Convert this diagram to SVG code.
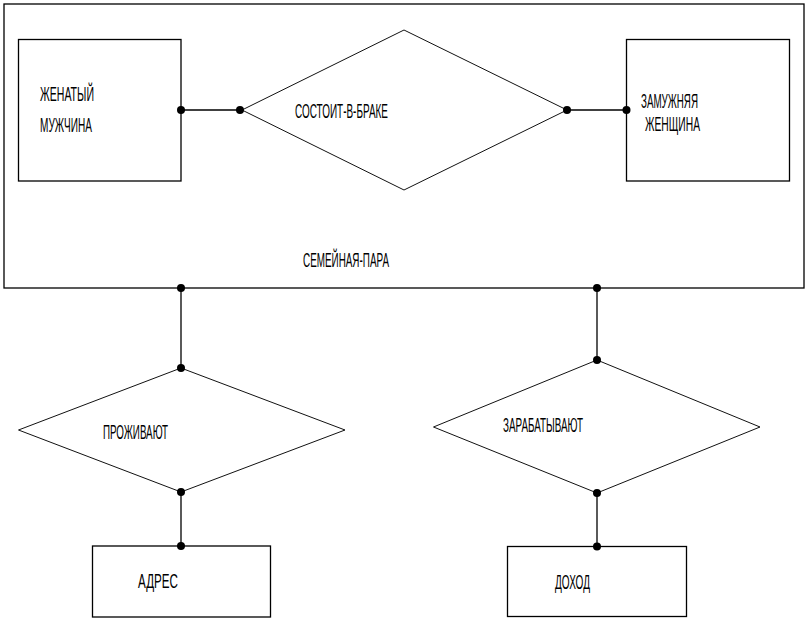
<svg xmlns="http://www.w3.org/2000/svg" width="806" height="620" viewBox="0 0 806 620">
<style>
.box{fill:none;stroke:#000;stroke-width:1.3}
.dia{fill:none;stroke:#111;stroke-width:1}
.ln{stroke:#000;stroke-width:1.3;fill:none}
.dot{fill:#000}
text{font-family:"Liberation Sans","DejaVu Sans",sans-serif;font-size:20px;fill:#000}
</style>
<rect width="806" height="620" fill="#fff"/>
<g id="semeynaya-para">
<rect class="box" x="4" y="4" width="800" height="284"/>
<text x="303" y="267" textLength="86" lengthAdjust="spacingAndGlyphs">СЕМЕЙНАЯ-ПАРА</text>
</g>
<g id="zhenatyy-muzhchina">
<rect class="box" x="18.5" y="39.5" width="162.5" height="141.5"/>
<text x="40" y="101" textLength="54" lengthAdjust="spacingAndGlyphs">ЖЕНАТЫЙ</text>
<text x="40" y="132" textLength="52" lengthAdjust="spacingAndGlyphs">МУЖЧИНА</text>
</g>
<g id="sostoit-v-brake">
<polygon class="dia" points="404,30 567,110 404,190 242,110"/>
<text x="295" y="118" textLength="93" lengthAdjust="spacingAndGlyphs">СОСТОИТ-В-БРАКЕ</text>
</g>
<g id="zamuzhnyaya-zhenshchina">
<rect class="box" x="626.5" y="39.5" width="163" height="141.5"/>
<text x="641" y="108" textLength="57" lengthAdjust="spacingAndGlyphs">ЗАМУЖНЯЯ</text>
<text x="645" y="131" textLength="55" lengthAdjust="spacingAndGlyphs">ЖЕНЩИНА</text>
</g>
<g id="prozhivayut">
<polygon class="dia" points="181,368 345,430 181,492 18.5,430"/>
<text x="103" y="439" textLength="65" lengthAdjust="spacingAndGlyphs">ПРОЖИВАЮТ</text>
</g>
<g id="adres">
<rect class="box" x="92.5" y="546" width="178" height="71"/>
<text x="138" y="588" textLength="40" lengthAdjust="spacingAndGlyphs">АДРЕС</text>
</g>
<g id="zarabatyvayut">
<polygon class="dia" points="597,360 760,427 597,493 433.5,427"/>
<text x="503" y="432" textLength="80" lengthAdjust="spacingAndGlyphs">ЗАРАБАТЫВАЮТ</text>
</g>
<g id="dokhod">
<rect class="box" x="507.5" y="546.5" width="179" height="70"/>
<text x="555" y="589" textLength="35" lengthAdjust="spacingAndGlyphs">ДОХОД</text>
</g>
<g id="connectors">
<line class="ln" x1="181" y1="110" x2="240" y2="110"/>
<line class="ln" x1="567" y1="110" x2="626.5" y2="110"/>
<line class="ln" x1="181" y1="288" x2="181" y2="368"/>
<line class="ln" x1="181" y1="492" x2="181" y2="546"/>
<line class="ln" x1="597" y1="288" x2="597" y2="360"/>
<line class="ln" x1="597" y1="493" x2="597" y2="546.5"/>
<circle class="dot" cx="181" cy="110" r="4"/>
<circle class="dot" cx="240" cy="110" r="4"/>
<circle class="dot" cx="567" cy="110" r="4"/>
<circle class="dot" cx="626.5" cy="110" r="4"/>
<circle class="dot" cx="181" cy="288" r="4"/>
<circle class="dot" cx="181" cy="368" r="4"/>
<circle class="dot" cx="181" cy="492" r="4"/>
<circle class="dot" cx="181" cy="546" r="4"/>
<circle class="dot" cx="597" cy="288" r="4"/>
<circle class="dot" cx="597" cy="360" r="4"/>
<circle class="dot" cx="597" cy="493" r="4"/>
<circle class="dot" cx="597" cy="546.5" r="4"/>
</g>
</svg>
